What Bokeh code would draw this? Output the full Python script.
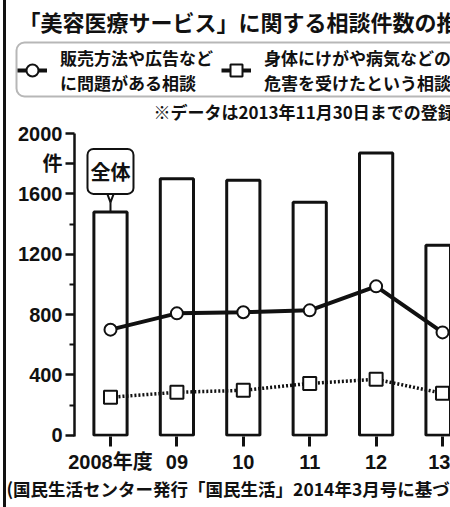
from bokeh.plotting import figure
from bokeh.layouts import row, column
from bokeh.models import (Range1d, FixedTicker, Label, BoxAnnotation, Legend,
                          LegendItem, Div)
from bokeh.embed import file_html
from bokeh.resources import INLINE

# ---- data ----
years = ["2008年度", "09", "10", "11", "12", "13"]
total = [1480, 1700, 1690, 1545, 1870, 1260]          # 全体
sales = [700, 808, 815, 828, 987, 682]                # 販売方法や広告などに問題がある相談
harm = [252, 285, 298, 344, 371, 278]                 # 身体にけがや病気などの危害を受けたという相談
y_ticks = [0, 400, 800, 1200, 1600, 1800, 2000]
y_labels = {0: "0", 400: "400", 800: "800", 1200: "1200", 1600: "1600", 1800: "件", 2000: "2000"}
y_minor = [200, 600, 1000, 1400]

title_text = "「美容医療サービス」に関する相談件数の推移"
legend1 = "販売方法や広告など\nに問題がある相談"
legend2 = "身体にけがや病気などの\n危害を受けたという相談"
note_text = "※データは2013年11月30日までの登録分"
source_text = "(国民生活センター発行「国民生活」2014年3月号に基づく)"

xs = list(range(len(years)))
NAN = [float("nan")]

X0 = 6            # left edge of the figures (after the border line)
W = 450 - X0
TOP_H, MAIN_H, BOT_H = 122, 356, 29
JP = "Noto Sans CJK JP"
NUM = "Liberation Sans, Noto Sans CJK JP"
INK = "#111111"

# ---------------- top panel: title, legend, note ----------------
pt = figure(width=W, height=TOP_H, x_range=Range1d(0, W), y_range=Range1d(0, TOP_H),
            x_axis_type=None, y_axis_type=None, output_backend="svg", toolbar_location=None,
            min_border=0, min_border_left=0, min_border_right=0, min_border_top=0,
            min_border_bottom=0, frame_align=False)
pt.outline_line_color = None
pt.grid.visible = False


def tsx(rx):
    return rx - X0


def tsy(ry):
    return TOP_H - ry


pt.add_layout(Label(x=tsx(18), y=tsy(20), x_units="screen", y_units="screen", text=title_text,
                    text_font=JP, text_font_size="22px", text_font_style="bold",
                    text_color=INK, text_baseline="middle"))
pt.add_layout(BoxAnnotation(left=tsx(16), right=tsx(480), top=tsy(42), bottom=tsy(96),
                            left_units="screen", right_units="screen",
                            top_units="screen", bottom_units="screen",
                            fill_color="white", fill_alpha=1, line_color=INK, line_width=2,
                            border_radius=8))
k1l = pt.line(x=NAN, y=NAN, line_color=INK, line_width=4)
k1m = pt.scatter(x=NAN, y=NAN, marker="circle", size=12, fill_color="white",
                 line_color=INK, line_width=2)
k2l = pt.line(x=NAN, y=NAN, line_color=INK, line_width=4)
k2m = pt.scatter(x=NAN, y=NAN, marker="square", size=13, fill_color="white",
                 line_color=INK, line_width=2)
legend = Legend(items=[LegendItem(label=legend1, renderers=[k1l, k1m]),
                       LegendItem(label=legend2, renderers=[k2l, k2m])],
                orientation="horizontal", location=(tsx(17), tsy(95)),
                glyph_width=30, glyph_height=40, label_standoff=13, spacing=8, padding=4,
                margin=0, label_text_font=JP, label_text_font_size="17px",
                label_text_font_style="bold", label_text_color=INK,
                label_text_line_height=1.15,
                border_line_color=None, background_fill_alpha=0)
pt.add_layout(legend)
pt.add_layout(Label(x=tsx(153), y=tsy(111), x_units="screen", y_units="screen", text=note_text,
                    text_font=JP, text_font_size="17px", text_font_style="bold",
                    text_color=INK, text_baseline="middle"))

# ---------------- main chart ----------------
p = figure(width=W, height=MAIN_H, x_range=Range1d(-0.542, 5.12), y_range=Range1d(-8, 2000),
           output_backend="svg", toolbar_location=None, frame_align=False,
           min_border_left=74 - X0, min_border_right=0, min_border_top=11, min_border_bottom=42)
p.outline_line_color = None
p.xgrid.grid_line_color = None
p.ygrid.grid_line_color = None

ya = p.yaxis[0]
ya.ticker = FixedTicker(ticks=y_ticks, minor_ticks=y_minor)
ya.major_label_overrides = y_labels
ya.axis_line_width = 2.5
ya.axis_line_color = INK
ya.major_tick_line_width = 2.5
ya.major_tick_line_color = INK
ya.major_tick_out = 9
ya.major_tick_in = 0
ya.minor_tick_line_width = 2
ya.minor_tick_line_color = INK
ya.minor_tick_out = 5
ya.minor_tick_in = 0
ya.major_label_standoff = 3
ya.major_label_text_font = NUM
ya.major_label_text_font_size = "20px"
ya.major_label_text_font_style = "bold"
ya.major_label_text_color = INK

xa = p.xaxis[0]
xa.ticker = FixedTicker(ticks=xs, minor_ticks=[])
xa.major_label_overrides = {i: t for i, t in zip(xs, years)}
xa.axis_line_color = None
xa.major_tick_line_width = 3
xa.major_tick_line_color = INK
xa.major_tick_out = 10
xa.major_tick_in = 0
xa.major_label_standoff = 4
xa.major_label_text_font = NUM
xa.major_label_text_font_size = "20px"
xa.major_label_text_font_style = "bold"
xa.major_label_text_color = INK

p.vbar(x=xs, top=total, bottom=0, width=0.5, fill_color="white",
       line_color=INK, line_width=3)
p.line(xs, sales, line_color=INK, line_width=4)
p.scatter(xs, sales, marker="circle", size=12, fill_color="white",
          line_color=INK, line_width=2)
p.line(xs, harm, line_color=INK, line_width=3.5, line_dash="2 2")
p.scatter(xs, harm, marker="square", size=13, fill_color="white",
          line_color=INK, line_width=2)

# callout 全体
CALLOUT_Y = 1749
TAIL_TOP = 1650
TAIL_TIP = 1544
p.multi_line(xs=[[-0.09, 0, 0.09], [0, 0]],
             ys=[[TAIL_TOP, TAIL_TIP, TAIL_TOP], [TAIL_TIP, total[0]]],
             line_color=INK, line_width=2)
p.add_layout(Label(x=0, y=CALLOUT_Y, text="全体", text_align="center", text_baseline="middle",
                   text_font=JP, text_font_size="20px", text_font_style="bold",
                   text_color=INK, border_line_color=INK, border_line_width=2,
                   background_fill_color="white", padding=(3, 8), border_radius=6))

# ---------------- bottom: source ----------------
pb = figure(width=W, height=BOT_H, x_range=Range1d(0, W), y_range=Range1d(0, BOT_H),
            x_axis_type=None, y_axis_type=None, output_backend="svg", toolbar_location=None,
            min_border=0, min_border_left=0, min_border_right=0, min_border_top=0,
            min_border_bottom=0, frame_align=False)
pb.outline_line_color = None
pb.grid.visible = False
pb.add_layout(Label(x=0, y=507 - 488, x_units="screen", y_units="screen", text=source_text,
                    text_font=JP, text_font_size="17.5px", text_font_style="bold",
                    text_color=INK, text_baseline="middle"))

gap = Div(width=3, height=507, margin=0)
border = Div(width=3, height=507, margin=0, styles={"background-color": INK})
layout = row(gap, border, column(pt, p, pb, spacing=0), spacing=0)

open("out.html", "w").write(file_html(layout, INLINE))
